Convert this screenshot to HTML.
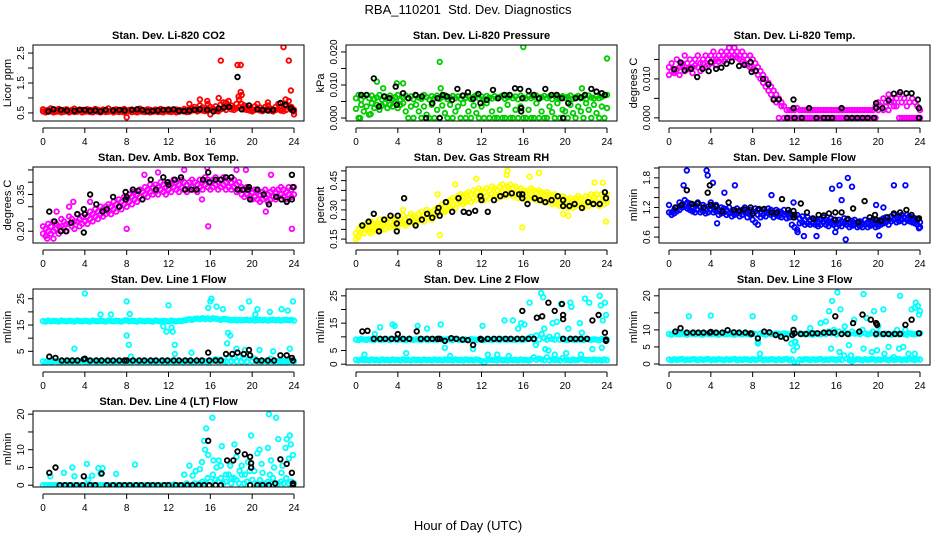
<!DOCTYPE html>
<html><head><meta charset="utf-8"><style>
html,body{margin:0;padding:0;background:#fff;}
svg{display:block;font-family:"Liberation Sans",sans-serif;}
</style></head><body>
<svg id="chart" width="936" height="540" viewBox="0 0 936 540" xmlns="http://www.w3.org/2000/svg">
<rect width="936" height="540" fill="#fff"/>
<text x="468" y="14" text-anchor="middle" font-size="13">RBA_110201&#160; Std. Dev. Diagnostics</text>
<text x="468" y="530" text-anchor="middle" font-size="13">Hour of Day (UTC)</text>
</svg>
<script>
// ---- data (hours, values) ----
const xTicks = [0,4,8,12,16,20,24];
const qStep = 0.25;
// Panel 1: Li-820 CO2
const co2Red = [0.62,0.58,0.6,0.65,0.55,0.6,0.63,0.57,0.6,0.62,0.55,0.6,0.64,0.58,0.61,0.6,0.56,0.62,0.6,0.58,0.63,0.6,0.57,0.61,0.6,0.65,0.58,0.6,0.62,0.56,0.6,0.63,0.58,0.6,0.61,0.57,0.6,0.64,0.6,0.58,0.62,0.6,0.56,0.61,0.6,0.63,0.58,0.6,0.62,0.57,0.6,0.61,0.6,0.58,0.63,0.6,0.62,0.65,0.7,0.6,0.75,0.68,0.62,0.8,0.7,0.65,0.72,0.6,0.78,0.85,0.7,0.9,0.75,0.68,0.8,0.95,1.1,0.75,0.7,0.65,0.6,0.72,0.8,0.68,0.62,0.7,0.75,0.65,0.6,0.7,0.8,0.68,0.65,0.72,0.9,0.7,0.6];
const co2Red2 = [0.55,0.52,0.54,0.56,0.52,0.54,0.55,0.52,0.54,0.56,0.52,0.55,0.53,0.54,0.56,0.52,0.54,0.55,0.53,0.52,0.56,0.54,0.52,0.55,0.53,0.54,0.56,0.52,0.55,0.53,0.54,0.52,0.56,0.55,0.53,0.54,0.52,0.55,0.54,0.53,0.56,0.52,0.54,0.55,0.53,0.54,0.52,0.56,0.54,0.53,0.55,0.52,0.54,0.56,0.55,0.53,0.54,0.58,0.62,0.55,0.6,0.58,0.56,0.62,0.6,0.57,0.6,0.55,0.62,0.65,0.6,0.72,0.62,0.6,0.65,0.7,0.8,0.62,0.6,0.58,0.55,0.6,0.65,0.58,0.56,0.6,0.62,0.58,0.55,0.6,0.62,0.58,0.56,0.6,0.7,0.6,0.55];
const co2RedOut = [[8,0.35],[17,2.25],[18.6,2.1],[18.9,2.1],[18.9,1.2],[16.8,1.0],[15,0.95],[15.7,0.9],[14,0.8],[23,2.7],[23.5,2.25],[23.7,1.25],[23.2,0.95],[16,0.45],[24,0.45],[17.5,0.85],[21.5,0.85],[18.7,1.05]];
const co2Black = [[0.5,0.55],[1,0.62],[1.7,0.6],[2.3,0.58],[3,0.57],[3.5,0.6],[4,0.6],[4.5,0.57],[5,0.58],[5.5,0.55],[6,0.6],[6.7,0.58],[7.3,0.6],[7.8,0.58],[8.5,0.6],[9,0.62],[9.5,0.6],[10,0.55],[10.5,0.57],[11,0.58],[11.5,0.6],[12,0.6],[12.5,0.62],[13,0.57],[13.5,0.56],[14,0.58],[14.5,0.6],[15,0.62],[15.7,0.6],[16.3,0.55],[16.8,0.65],[17.3,0.68],[17.8,0.7],[18.6,1.7],[19,0.62],[19.7,0.75],[20.5,0.62],[21,0.6],[21.5,0.58],[22,0.6],[22.7,0.83],[23.2,0.77],[23.7,0.65],[23.9,0.58]];
// Panel 2: Pressure
const presGreen = [0.006,0.007,0.0055,0.0065,0.007,0.006,0.0068,0.0058,0.0062,0.007,0.0055,0.0065,0.006,0.0068,0.0058,0.0063,0.007,0.0055,0.0062,0.0068,0.006,0.0065,0.0057,0.0068,0.0062,0.0058,0.007,0.0063,0.0056,0.0066,0.006,0.0068,0.0058,0.0064,0.0069,0.0057,0.0062,0.0067,0.006,0.0065,0.0058,0.0068,0.0061,0.0066,0.0057,0.0064,0.0069,0.006,0.0065,0.0058,0.0067,0.0062,0.0059,0.0066,0.006,0.0064,0.0068,0.0058,0.0063,0.0067,0.006,0.0065,0.0057,0.0068,0.0062,0.0059,0.0066,0.006,0.0064,0.0068,0.0058,0.0063,0.0067,0.006,0.0065,0.0057,0.0068,0.0062,0.0059,0.0066,0.006,0.0064,0.0068,0.0058,0.0063,0.0067,0.006,0.0065,0.0057,0.0068,0.0062,0.0059,0.0066,0.006,0.0064,0.0068,0.007];
const presGreen2 = [0.0028,0,0.004,0.002,0.0035,0.001,0.0045,0.003,0.004,0.0025,0.0038,0.0045,0.003,0.004,0.0035,0.0045,0.003,0.004,0.0045,0.002,0,0.0035,0,0.004,0.002,0,0.0035,0.001,0,0.004,0,0.0025,0,0.0038,0.0015,0,0.004,0,0.002,0.0035,0,0.0045,0,0.002,0,0.0038,0.0015,0,0.0035,0,0.0045,0,0.002,0,0,0.0025,0,0,0.004,0,0,0.0025,0,0.0035,0,0,0.0025,0,0,0.0045,0,0.002,0,0,0.0035,0.0018,0,0.0045,0,0.0025,0.002,0,0.004,0.0015,0,0.0035,0.002,0,0.0045,0.0025,0,0.004,0.0015,0,0.0035,0,0.003];
const presGreenOut = [[8,0.017],[16,0.0215],[24,0.018],[2,0.011],[4.5,0.0105],[3.9,0.0105],[2.6,0.009],[8.1,0.009],[21.6,0.009],[1.4,0.0012],[0.4,0]];
const presBlack = [[0.5,0.007],[1,0.007],[1.7,0.012],[2.2,0.0035],[2.7,0.0065],[3.2,0.006],[3.8,0.0095],[3.9,0.004],[4.5,0.0075],[5,0.006],[5.7,0.007],[6.3,0.0065],[6.7,0],[7.3,0.0045],[7.8,0.006],[8,0],[8.3,0.007],[8.7,0.0065],[9.2,0.0055],[9.7,0.0088],[10.2,0.0068],[10.7,0.0078],[11.2,0.0058],[11.7,0.0073],[11.9,0.0045],[12.5,0.0055],[13.1,0.0085],[13.6,0.006],[14.2,0.007],[14.7,0.007],[15.2,0.009],[15.7,0.0088],[15.8,0.003],[15.8,0.002],[15.9,0.006],[16.5,0.0082],[17,0.007],[17.5,0.006],[18.1,0.0088],[18.7,0.007],[19.2,0.007],[19.7,0.006],[19.8,0],[20.3,0.0045],[21,0.006],[21.5,0.0062],[21.9,0.007],[22.5,0.0088],[23,0.008],[23.5,0.0075],[23.8,0.007]];
// Panel 3: Li-820 temp
const tempMag = [0.013,0.014,0.012,0.015,0.013,0.014,0.016,0.014,0.015,0.013,0.015,0.016,0.014,0.015,0.016,0.015,0.016,0.017,0.015,0.016,0.017,0.016,0.017,0.018,0.017,0.018,0.017,0.016,0.017,0.016,0.015,0.016,0.015,0.014,0.013,0.012,0.011,0.010,0.009,0.008,0.007,0.006,0.005,0.004,0.003,0.002,0.002,0.002,0.002,0.0025,0.002,0.002,0.002,0.002,0.002,0.002,0.002,0.002,0.002,0.002,0.002,0.002,0.002,0.002,0.002,0.002,0.002,0.002,0.002,0.002,0.002,0.002,0.002,0.002,0.002,0.002,0.002,0.002,0.002,0.003,0.004,0.003,0.005,0.004,0.006,0.005,0.004,0.005,0.006,0.004,0.005,0.003,0.004,0.005,0.004,0.003,0.002];
const tempMag2 = [0.011,0.012,0.0115,0.0125,0.011,0.0135,0.012,0.0125,0.013,0.0115,0.0135,0.013,0.012,0.014,0.013,0.0135,0.014,0.015,0.0135,0.0145,0.015,0.0145,0.0155,0.016,0.0155,0.016,0.0155,0.015,0.0145,0.014,0.0135,0.013,0.0125,0.012,0.011,0.01,0.009,0.008,0.007,0.006,0.005,0.004,0,0.003,0,0,0,0,0,0,0,0,0,0,0,0,0,0,0,0,0,0,0,0,0,0,0,0,0,0,0,0,0,0,0,0,0,0,0,0,0.002,0.003,0.002,0.003,0.002,0.004,0.003,0.003,0,0,0,0,0,0,0,0,0];
const tempBlack = [[0.5,0.0125],[1.1,0.0142],[1.5,0.0122],[2.1,0.0126],[2.7,0.0105],[3.2,0.0126],[3.8,0.012],[4,0.0143],[4.5,0.0126],[5,0.0129],[5.5,0.0139],[6,0.0145],[6.7,0.0133],[7.2,0.0136],[7.8,0.0143],[7.9,0.0118],[8.3,0.0121],[9,0.01],[9.5,0.0086],[10,0.0047],[10.5,0.0047],[11.3,0],[11.9,0.0047],[11.9,0.0025],[12,0],[12.7,0],[13.4,0.0025],[14.1,0],[14.8,0],[15.2,0],[15.6,0],[16.5,0.0025],[17,0],[17.5,0],[18,0],[18.5,0],[19,0],[19.6,0],[19.8,0.0038],[19.8,0.0025],[20.4,0.0025],[21,0.0045],[21.5,0.0062],[22.1,0.0066],[22.7,0.0063],[23.2,0.0063],[23.8,0.0047],[23.9,0.0025],[23.9,0]];
// Panel 4: amb box temp
const boxMag = [0.22,0.21,0.23,0.22,0.24,0.23,0.22,0.25,0.24,0.23,0.26,0.25,0.24,0.27,0.25,0.26,0.27,0.26,0.28,0.27,0.29,0.28,0.3,0.29,0.3,0.31,0.3,0.32,0.31,0.33,0.32,0.34,0.33,0.35,0.34,0.36,0.35,0.37,0.36,0.38,0.37,0.39,0.38,0.39,0.38,0.4,0.39,0.38,0.4,0.39,0.41,0.4,0.39,0.41,0.4,0.39,0.4,0.41,0.4,0.39,0.41,0.4,0.42,0.41,0.4,0.41,0.42,0.4,0.41,0.42,0.4,0.41,0.4,0.41,0.39,0.4,0.38,0.37,0.38,0.37,0.36,0.37,0.36,0.35,0.36,0.37,0.35,0.36,0.37,0.36,0.37,0.38,0.37,0.36,0.38,0.37,0.38];
const boxMag2 = [0.19,0.18,0.2,0.19,0.2,0.21,0.19,0.22,0.21,0.2,0.23,0.22,0.21,0.24,0.22,0.23,0.24,0.23,0.25,0.24,0.26,0.25,0.27,0.26,0.27,0.28,0.27,0.29,0.28,0.3,0.29,0.31,0.3,0.32,0.31,0.33,0.32,0.34,0.33,0.35,0.34,0.36,0.35,0.36,0.35,0.37,0.36,0.35,0.37,0.36,0.38,0.37,0.36,0.38,0.37,0.36,0.37,0.38,0.37,0.36,0.38,0.37,0.39,0.38,0.37,0.38,0.39,0.37,0.38,0.39,0.37,0.38,0.37,0.38,0.36,0.37,0.35,0.34,0.35,0.34,0.33,0.34,0.33,0.32,0.33,0.34,0.32,0.33,0.34,0.33,0.34,0.35,0.34,0.33,0.35,0.34,0.35];
const boxMagOut = [[0.4,0.17],[1,0.17],[1.3,0.28],[2.5,0.3],[2.9,0.32],[4.5,0.32],[6.5,0.27],[8,0.21],[8.6,0.36],[9.7,0.43],[11,0.44],[13.5,0.45],[15.8,0.22],[15.7,0.46],[18.5,0.45],[19.4,0.45],[21.3,0.28],[21.8,0.43],[23.8,0.21],[15.2,0.33]];
const boxBlack = [[0.6,0.28],[1.1,0.24],[1.7,0.2],[2.2,0.2],[2.7,0.235],[3.3,0.27],[3.9,0.195],[3.9,0.29],[4,0.27],[4.5,0.35],[5.1,0.31],[5.7,0.28],[6.1,0.29],[6.7,0.34],[7.3,0.3],[7.9,0.36],[7.9,0.33],[8,0.34],[8.6,0.37],[9.1,0.365],[9.5,0.33],[10.3,0.41],[10.8,0.37],[11.5,0.42],[11.9,0.4],[12,0.39],[12.6,0.41],[13.2,0.42],[13.6,0.37],[14.2,0.37],[14.7,0.37],[15.3,0.41],[15.8,0.44],[15.9,0.4],[16.5,0.41],[17,0.41],[17.5,0.42],[18,0.42],[18.6,0.37],[19.1,0.37],[19.6,0.37],[19.7,0.38],[19.8,0.33],[20.5,0.37],[21.1,0.35],[21.6,0.31],[22.3,0.34],[22.8,0.33],[23.3,0.32],[23.8,0.33],[23.8,0.43],[23.9,0.38]];
// Panel 5: gas stream RH
const rhYel = [0.18,0.2,0.22,0.21,0.23,0.22,0.24,0.23,0.22,0.25,0.24,0.23,0.25,0.24,0.26,0.25,0.24,0.26,0.27,0.25,0.26,0.28,0.27,0.26,0.28,0.29,0.27,0.3,0.29,0.28,0.3,0.31,0.3,0.33,0.32,0.34,0.35,0.36,0.35,0.37,0.38,0.37,0.38,0.39,0.38,0.4,0.39,0.41,0.4,0.39,0.41,0.4,0.42,0.41,0.4,0.42,0.43,0.41,0.42,0.43,0.41,0.42,0.4,0.41,0.4,0.39,0.4,0.41,0.4,0.39,0.4,0.39,0.38,0.39,0.38,0.37,0.38,0.37,0.36,0.37,0.36,0.35,0.36,0.35,0.36,0.37,0.36,0.35,0.37,0.36,0.38,0.37,0.38,0.36,0.38,0.37,0.38];
const rhYel2 = [0.15,0.17,0.19,0.18,0.2,0.19,0.21,0.2,0.19,0.21,0.2,0.2,0.22,0.21,0.22,0.21,0.21,0.23,0.23,0.22,0.23,0.24,0.24,0.23,0.25,0.25,0.24,0.26,0.26,0.25,0.27,0.28,0.27,0.29,0.29,0.3,0.31,0.32,0.31,0.33,0.34,0.33,0.34,0.35,0.34,0.36,0.35,0.37,0.36,0.35,0.37,0.36,0.38,0.37,0.36,0.38,0.39,0.37,0.38,0.39,0.37,0.38,0.36,0.37,0.36,0.35,0.36,0.37,0.36,0.35,0.36,0.35,0.34,0.35,0.34,0.33,0.34,0.33,0.32,0.33,0.32,0.31,0.32,0.31,0.32,0.33,0.32,0.31,0.33,0.32,0.34,0.33,0.34,0.32,0.34,0.33,0.34];
const rhYelOut = [[0.2,0.16],[1.4,0.18],[4.5,0.3],[8,0.17],[7.8,0.38],[9.5,0.43],[11.5,0.46],[14.5,0.5],[14.4,0.48],[15.9,0.21],[16.6,0.47],[17.5,0.49],[19.8,0.28],[20.3,0.27],[23.9,0.24],[23.6,0.44],[22.8,0.44]];
const rhBlack = [[0.6,0.22],[1.2,0.24],[1.7,0.28],[2.2,0.19],[2.7,0.25],[3.3,0.27],[3.9,0.23],[3.9,0.19],[4,0.27],[4.6,0.36],[5.1,0.24],[5.7,0.22],[6.3,0.25],[6.8,0.28],[7.3,0.26],[7.8,0.29],[7.9,0.31],[8,0.27],[8.6,0.34],[9.2,0.29],[9.8,0.36],[10.3,0.29],[10.8,0.285],[11.4,0.295],[11.9,0.37],[12,0.35],[12.6,0.29],[13.2,0.35],[13.8,0.37],[14.3,0.38],[14.9,0.385],[15.6,0.38],[15.9,0.38],[15.9,0.36],[16.4,0.33],[17.1,0.36],[17.6,0.35],[18.1,0.34],[18.7,0.35],[19.3,0.37],[19.8,0.35],[19.8,0.32],[20.4,0.32],[20.9,0.33],[21.6,0.31],[22.2,0.34],[22.7,0.33],[23.3,0.33],[23.8,0.39],[23.9,0.36]];
// Panel 6: sample flow
const sfBlue = [1.25,1.1,1.15,1.2,1.3,1.25,1.35,1.3,1.28,1.22,1.25,1.3,1.2,1.25,1.18,1.22,1.3,1.2,1.25,1.15,1.2,1.18,1.15,1.2,1.12,1.15,1.18,1.12,1.15,1.2,1.1,1.15,1.12,1.18,1.15,1.1,1.15,1.12,1.18,1.15,1.1,1.15,1.12,1.1,1.15,1.08,1.1,1.05,1.0,1.05,0.98,1.02,0.95,1.0,0.95,0.98,0.95,0.92,0.95,1.0,0.95,0.92,0.98,0.95,0.9,0.95,0.92,0.98,0.95,0.9,0.93,0.95,0.9,0.92,0.88,0.95,0.9,0.93,0.95,0.9,0.92,0.95,0.98,1.0,0.95,1.02,1.05,1.0,1.02,1.05,1.0,1.05,1.02,1.0,0.98,0.95,0.9];
const sfBlue2 = [1.1,1.05,1.08,1.12,1.15,1.2,1.22,1.18,1.15,1.12,1.1,1.15,1.1,1.12,1.08,1.1,1.15,1.1,1.12,1.05,1.08,1.1,1.05,1.08,1.02,1.05,1.08,1.02,1.05,1.1,1.0,1.05,0.95,0.9,1.05,1.0,1.05,1.02,1.08,1.05,1.0,1.05,1.02,1.0,1.05,0.98,1.0,0.85,0.8,0.75,0.88,0.9,0.85,0.88,0.85,0.88,0.85,0.82,0.85,0.9,0.85,0.82,0.88,0.85,0.8,0.85,0.82,0.88,0.85,0.8,0.83,0.85,0.8,0.82,0.8,0.85,0.8,0.83,0.85,0.8,0.82,0.85,0.88,0.9,0.85,0.92,0.95,0.9,0.92,0.95,0.9,0.95,0.92,0.9,0.88,0.85,0.8];
const sfBlueOut = [[1.7,1.95],[3.6,1.95],[3.7,1.85],[4.2,1.7],[1.4,1.65],[5.3,1.5],[6.3,1.65],[4.6,0.88],[9.8,1.45],[8.5,0.85],[12.3,0.7],[12.9,0.62],[14.1,0.62],[15.6,1.58],[16.3,1.65],[17.1,1.8],[17.5,1.62],[15.9,0.7],[16.9,0.55],[16.5,1.35],[19.8,1.25],[20.1,0.63],[21.5,1.65],[22.6,1.65],[23.9,0.78],[11.9,1.3],[20.5,1.2]];
const sfBlack = [[0.6,1.2],[1.2,1.25],[1.7,1.55],[2.2,1.27],[2.7,1.28],[3.3,1.2],[3.7,1.5],[3.9,1.65],[4,1.25],[4.5,1.22],[5.1,1.12],[5.7,1.3],[6.2,1.15],[6.7,1.13],[7.2,1.16],[7.8,1.2],[8,1.07],[8.6,1.17],[9.1,1.17],[9.8,1.1],[10.3,1.1],[10.8,1.37],[11.4,1.15],[11.9,1.13],[11.9,1.0],[12,1.05],[12.6,1.28],[13.2,1.1],[13.8,0.97],[14.3,1.05],[14.8,1.04],[15.3,1.08],[15.9,1.1],[15.9,0.95],[16.5,1.1],[17.1,0.97],[17.6,1.18],[18.1,0.9],[18.7,1.33],[19.2,1.0],[19.7,1.05],[19.8,0.95],[20.3,0.93],[20.9,1.0],[21.5,1.08],[22.1,1.1],[22.7,1.15],[23.2,1.05],[23.8,0.97],[23.9,0.98]];
// Panel 7: line 1 flow
const l1Upper = [16.5,16.3,16.7,16.4,16.6,16.5,16.3,16.7,16.5,16.4,16.6,16.5,16.3,16.7,16.5,16.4,16.6,16.5,16.3,16.7,16.5,16.4,16.6,16.5,16.3,16.7,16.5,16.4,16.6,16.5,16.3,16.7,16.8,16.4,16.6,16.5,16.3,16.7,16.5,16.4,16.6,16.5,16.3,16.7,16.5,16.4,16.6,16.5,16.3,16.7,16.5,16.4,16.6,16.5,16.8,17,17.2,17,17.3,17.5,17.2,17.6,17.3,17.5,17.2,17.6,17.4,17.2,17,17.3,17.2,17,16.8,17,16.8,17,16.8,16.9,17,16.8,17,16.7,16.9,17,16.8,17,16.7,16.9,17,16.8,17,16.7,16.9,17,16.8,17,16.7];
const l1Lower = [1.2,1.0,1.3,1.1,1.2,1.4,1.0,1.2,1.1,1.3,1.2,1.0,1.3,1.1,1.2,1.4,1.0,1.2,1.1,1.3,1.2,1.0,1.3,1.1,1.2,1.4,1.0,1.2,1.1,1.3,1.2,1.0,1.3,1.1,1.2,1.4,1.0,1.2,1.1,1.3,1.2,1.0,1.3,1.1,1.2,1.4,1.0,1.2,1.1,1.3,1.2,1.0,1.3,1.1,1.2,1.4,1.0,1.2,1.1,1.3,1.2,1.0,1.3,1.1,1.2,1.4,2.0,1.2,1.8,1.3,1.2,2.5,1.3,2.2,1.2,3.0,1.0,2.0,1.1,3.5,1.2,2.2,1.3,1.1,1.2,1.4,1.0,2.2,1.1,1.3,1.2,1.0,1.3,1.1,1.2,1.4,1.2];
const l1Out = [[4,27],[8,24],[8,11],[8.2,7.5],[8.3,19.2],[8.4,3],[11.5,14.5],[11.8,12.5],[12,22.5],[12.3,14],[12.4,12.5],[12.6,7.5],[12.6,4],[14.2,4.5],[15.8,21.5],[16,24],[16.1,25],[16.6,22],[17.2,21],[17.7,12],[17.6,8],[17.9,11],[19,21.5],[19.7,24],[20.3,19],[20.5,21],[20.7,5.5],[21.7,20],[22,5],[22.8,21],[23.4,20.5],[23.6,6],[23.9,24],[18.5,6],[19.3,5.5],[6.5,19],[5.5,19],[3,6]];
const l1Black = [[0.6,3],[1.2,2.5],[1.8,1.5],[2.3,1.5],[2.8,1.5],[3.3,1.5],[3.9,2],[4,2.2],[4.5,1.5],[5.1,1.5],[5.6,1.5],[6.2,1.5],[6.7,1.5],[7.3,1.5],[7.8,1.5],[8,1.5],[8.6,1.5],[9.2,1.5],[9.7,1.5],[10.3,1.5],[10.8,1.5],[11.4,1.5],[11.9,1.5],[12.5,1.5],[13,1.5],[13.6,1.5],[14.1,1.5],[14.7,1.5],[15.2,1.5],[15.8,4.5],[15.9,1.5],[16.5,1.5],[17,1.5],[17.5,4],[18.1,4],[18.6,4.5],[19.2,4],[19.7,5.5],[19.8,3.5],[20.4,1.5],[20.9,1.5],[21.5,1.5],[22.1,1.5],[22.7,3.5],[23.3,3.5],[23.8,2.5],[23.9,1.5]];
// Panel 8: line 2 flow
const l2Upper = [9,8.8,9.2,9,8.9,9.1,9,8.8,9.2,9,8.9,9.1,9,8.8,9.2,9,8.9,9.1,9,8.8,9.2,9,8.9,9.1,9,8.8,9.2,9,8.9,9.1,9,8.8,9.2,9,8.9,9.1,9,8.8,9.2,9,8.9,9.1,9,8.8,9.2,9,8.9,9.1,9,8.8,9.2,9,8.9,9.1,9,8.8,9.2,9,8.9,9.1,9,8.8,9.2,9,8.9,9.1,9.5,10,9,10.5,9,11,9.5,9,10,9.2,9,10.5,9,9.2,9,8.8,9.2,9,8.9,9.1,9,8.8,9.2,9,8.9,9.1,9,8.8,9.2,9,9];
const l2Lower = [1.6,1.4,1.7,1.5,1.6,1.4,1.7,1.5,1.6,1.4,1.7,1.5,1.6,1.4,1.7,1.5,1.6,1.4,1.7,1.5,1.6,1.4,1.7,1.5,1.6,1.4,1.7,1.5,1.6,1.4,1.7,1.5,1.6,1.4,1.7,1.5,1.6,1.4,1.7,1.5,1.6,1.4,1.7,1.5,1.6,1.4,1.7,1.5,1.2,0.6,1.4,1.7,1.5,1.6,1.4,1.7,1.5,1.6,1.4,1.7,1.5,1.6,1.4,1.7,1.5,1.6,1.4,1.7,2.5,1.6,2,1.7,1.5,2.5,1.4,1.7,1.5,1.6,1.4,2.2,1.5,1.6,1.4,1.7,1.5,1.6,2,1.7,1.5,1.6,1.4,1.7,1.5,1.6,1.4,1.7,1.5];
const l2Out = [[1.8,11],[2.3,13.5],[3.5,14.5],[3.7,14],[4.8,4],[5.9,14],[6.8,13],[8.1,14.5],[8.5,6],[9,3],[11.2,5.5],[12.1,14],[12.4,9],[12.6,3.5],[14.2,16],[15,16],[15.5,13],[15.8,15],[16.1,14.5],[16.6,22.5],[17.7,26],[17.9,24.5],[18,13],[18.4,5],[18.8,15],[19.2,15.5],[19.6,22],[20.3,13],[20.5,22.5],[20.6,21],[21.4,15],[21.6,11.5],[21.9,24],[22.3,22.5],[22.6,5.5],[23.3,25],[23.4,21.5],[23.6,16],[23.9,18],[23.8,22.5],[23.5,6],[17.2,7],[18.1,5.5],[19,3.5],[20.1,4],[21.5,3.5],[0.8,3.5],[13.5,3.5],[14.6,3]];
const l2Black = [[0.6,12],[1.1,12.2],[1.7,9.3],[2.3,9.3],[2.8,9.3],[3.4,9.3],[3.9,9.3],[4,11],[4.5,9.3],[5.1,9.3],[5.8,12],[6.2,9.3],[6.8,9.3],[7.3,9.3],[7.8,9.3],[8,9.3],[8.5,8.5],[9.1,9.5],[9.6,9.3],[10.2,9],[10.7,8.8],[11.2,7],[11.9,9.3],[12,9],[12.6,9.3],[13.2,9.3],[13.7,9.3],[14.3,9.3],[14.8,9.3],[15.4,9.3],[15.9,19.5],[15.9,9.3],[16.5,9.3],[17,9.3],[17.3,17],[17.8,17.5],[18.4,22.5],[19,19.5],[19.7,22],[19.8,18],[19.8,16.5],[19.8,9.3],[20.5,9.3],[21,9.3],[21.5,9.3],[22.1,9.3],[22.6,16],[23.2,18],[23.8,11.5],[23.9,9],[23.9,8.5]];
// Panel 9: line 3 flow
const l3Upper = [8.8,8.6,9,8.8,8.7,8.9,8.8,8.6,9,8.8,8.7,8.9,8.8,8.6,9,8.8,8.7,8.9,8.8,8.6,9,8.8,8.7,8.9,8.8,8.6,9,8.8,8.7,8.9,8.8,8.6,9,8.8,6.5,8.9,8.8,8.6,9,8.8,8.7,8.9,8.8,8.6,9,8.8,8.7,8.9,6.5,5,9,8.8,8.7,8.9,8.8,8.6,9,8.8,8.7,8.9,8.8,9.5,9,10,8.7,9.5,8.8,9.2,9,8.8,9.5,8.9,9,8.8,10,9,8.7,8.9,9.5,8.6,9,8.8,8.7,8.9,8.8,8.6,9,8.8,8.7,8.9,8.8,8.6,9,8.8,8.7,8.9,9];
const l3Lower = [1.3,1.1,1.4,1.2,1.3,1.5,1.1,1.3,1.2,1.4,1.3,1.1,1.4,1.2,1.3,1.5,1.1,1.3,1.2,1.4,1.3,1.1,1.4,1.2,1.3,1.5,1.1,1.3,1.2,1.4,1.3,1.1,1.4,1.2,1.3,1.5,1.1,1.3,1.2,1.4,1.3,1.1,1.4,1.2,1.3,1.5,1.1,1.3,0.5,0.3,1.3,1.2,1.4,1.3,1.1,1.4,1.2,1.3,1.5,1.1,1.3,1.2,1.4,1.3,1.1,1.4,1.2,2.5,1.5,1.1,0.8,1.2,1.4,1.3,1.1,1.4,1.2,1.3,1.5,1.1,1.3,1.2,1.4,1.3,1.1,1.4,1.2,1.3,1.5,1.1,1.3,1.2,1.4,1.3,1.1,1.4,1.3];
const l3Out = [[1.9,14],[4,14.2],[8,14],[8.5,6],[8.7,3],[11.7,6],[11.9,4],[12,13.5],[12.1,6.5],[13.5,10.5],[14.5,12],[15,12.5],[15.3,15.5],[15.6,18.5],[16.1,21],[16.4,16],[16.8,11],[17.2,5.5],[17.7,13],[18.6,20.5],[18.9,13.5],[19.6,15.5],[20,11],[20.5,16],[21,5],[21.8,10],[22.1,20],[22.4,5],[22.6,10],[22.9,3],[23.2,16],[23.5,16.5],[23.6,18],[23.8,17],[23.9,14.5],[24,15.5],[16.3,3.5],[17.4,2.5],[18.6,4.5],[19.4,3.5],[19.9,4],[20.6,3],[22,4.5],[23.5,3],[15.5,4.5],[21.5,2]];
const l3Black = [[0.6,9.5],[1.1,10.5],[1.7,9.2],[2.3,9.2],[2.8,9.2],[3.3,9.2],[3.9,9.2],[4,9.4],[4.5,9.2],[5.1,9.2],[5.6,9.9],[6.2,9.3],[6.7,9.2],[7.3,9.2],[7.8,9],[7.9,8.8],[8.5,7.5],[9.1,9.5],[9.6,9.3],[10.2,8.5],[10.7,8],[11.2,7.5],[11.8,8.5],[11.9,10],[12,9],[12.6,8.8],[13.1,8.8],[13.7,9],[14.2,9],[14.8,9.2],[15.3,9.2],[15.8,9.2],[15.9,14],[16.5,8.8],[17.1,8.8],[17.6,12],[18.2,9.5],[18.5,14.5],[19.3,13],[19.8,12],[19.9,11.5],[19.8,8.8],[20.5,8.8],[21,8.8],[21.6,8.8],[22.1,8.8],[22.6,11.5],[23.2,13],[23.9,9]];
// Panel 10: line 4 (LT) flow
const l4Cyan = [0,0,0,0,0,0,0,0,0,0,0,0,0,0,0,0,0,0,0,0,0,0,0,0,0,0,0,0,0,0,0,0,0,0,0,0,0,0,0,0,0,0,0,0,0,0,0,0,0,0,0.2,0,0,0,0,0.5,0,0,0.5,0,0.5,1,0.5,2,1,3,1.5,1,2,0.5,1,3,0.5,2,1.5,0.5,3,0.5,1,4,1.5,0.5,0.5,1.5,0.5,0.5,1,0.5,2,0.3,0.5,1,0.5,2,0.5,1,0.5];
const l4Out = [[0.7,2.5],[2,3.5],[2.8,5],[3,2.5],[4.2,6],[4.3,1.5],[4.7,2.7],[5.3,4.8],[5.5,3.2],[5.7,4.8],[7,3.2],[8.8,5.8],[13.5,3],[14,5.5],[14.3,2.7],[14.6,4],[15,4.5],[15.2,6.5],[15.4,12.5],[15.5,10],[15.6,16],[15.8,8.5],[16.2,19],[16.3,7],[16.6,5],[16.8,7],[17.1,11],[17,5.5],[17.5,3],[17.9,5.5],[18.3,11.5],[18.5,8],[18.8,4],[19,5.5],[19.3,3],[19.6,6.5],[19.9,14],[20.2,4],[20.5,9],[20.7,10],[20.9,6],[21,3.5],[21.5,10.5],[21.6,20],[21.8,7],[22.1,5],[22.3,19],[22.5,13],[22.8,3.5],[22.9,5.5],[23.2,10.5],[23.3,13],[23.5,7.5],[23.6,14],[23.7,11.5],[23.9,8.5],[21.7,3],[18,2]];
const l4Black = [[0.6,3.5],[1.2,5],[1.6,0],[2.1,0],[2.6,0],[3.2,0],[3.8,0],[3.9,2.5],[4.5,0],[5,0],[5.6,3.3],[6.1,0],[6.7,0],[7.3,0],[7.8,0],[8.3,0],[8.9,0],[9.4,0],[10,0],[10.5,0],[11,0],[11.6,0],[12,0],[12.7,0],[13.2,0],[13.8,0],[14.3,0],[14.9,0],[15.4,0],[15.8,12.5],[15.9,0],[16.5,0],[17,0],[17.6,7],[18.2,7],[18.6,9.5],[19.3,8.7],[19.8,8],[19.9,6.2],[19.9,5],[19.8,0],[20.5,0],[21,0],[21.6,0],[22.2,0.5],[22.7,7.3],[23.3,6],[23.8,3.5],[23.9,0.5],[23.9,0]];

// ---- drawing ----
const NS = 'http://www.w3.org/2000/svg';
const svg = document.getElementById('chart');
const colX0 = [43, 356, 669];
const rowTop = [45, 167, 289, 411];
const plotH = 76;
const spanW = 251;

function mk(tag, attrs, parent) {
  const e = document.createElementNS(NS, tag);
  for (const k in attrs) e.setAttribute(k, attrs[k]);
  (parent || svg).appendChild(e);
  return e;
}
function fmt(v, d) { return v.toFixed(d); }

function panel(cfg) {
  const g = mk('g', {});
  
  
  const x0 = colX0[cfg.col], top = rowTop[cfg.row], bot = top + plotH;
  const xs = h => x0 + h / 24 * spanW;
  const ys = v => bot - (v - cfg.ymin) / (cfg.ymax - cfg.ymin) * plotH;
  const cid = 'clip-' + cfg.name;
  const cp = mk('clipPath', {id: cid}, g);
  mk('rect', {x: x0 - 10, y: top, width: spanW + 20, height: plotH}, cp);
  const pts = mk('g', {'clip-path': 'url(#' + cid + ')'}, g);
  function dot(h, v, color) {
    const c = mk('circle', {cx: xs(h).toFixed(1), cy: ys(v).toFixed(1), r: 2.3, fill: 'none', stroke: color, 'stroke-width': 1.8}, pts);
    
    
  }
  (cfg.qSeries || []).forEach(arr => arr.forEach((v, i) => dot(i * qStep, v, cfg.color)));
  (cfg.pairSeries || []).forEach(arr => arr.forEach(p => dot(p[0], p[1], cfg.color)));
  (cfg.black || []).forEach(p => dot(p[0], p[1], '#000'));
  const fr = mk('rect', {x: x0 - 10, y: top, width: spanW + 20, height: plotH, fill: 'none', stroke: '#000', 'stroke-width': 1}, g);
  
  
  const t = mk('text', {x: x0 + spanW / 2, y: top - 6, 'text-anchor': 'middle', 'font-size': 11, 'font-weight': 'bold'}, g);
  t.textContent = cfg.title;
  
  
  mk('line', {x1: xs(0), x2: xs(24), y1: bot + 7, y2: bot + 7, stroke: '#000'}, g);
  xTicks.forEach(h => {
    mk('line', {x1: xs(h), x2: xs(h), y1: bot + 7, y2: bot + 12, stroke: '#000'}, g);
    const tl = mk('text', {x: xs(h), y: bot + 24, 'text-anchor': 'middle', 'font-size': 10}, g);
    tl.textContent = h;
    
    
  });
  const ax = x0 - 10;
  cfg.ticks.forEach(v => {
    mk('line', {x1: ax - 5, x2: ax, y1: ys(v), y2: ys(v), stroke: '#000'}, g);
  });
  cfg.labels.forEach(v => {
    const yy = ys(v), lx = ax - 9;
    const tl = mk('text', {x: lx, y: yy, 'text-anchor': 'middle', 'font-size': 10, transform: 'rotate(-90 ' + lx + ' ' + yy + ')'}, g);
    tl.textContent = fmt(v, cfg.dec);
    
    
  });
  const yl = x0 - 32, ym = top + plotH / 2;
  const yt = mk('text', {x: yl, y: ym, 'text-anchor': 'middle', 'font-size': 11, transform: 'rotate(-90 ' + yl + ' ' + ym + ')'}, g);
  yt.textContent = cfg.ylab;
  
  
}

panel({name:'panel-co2', col:0, row:0, title:'Stan. Dev. Li-820 CO2', ylab:'Licor ppm', color:'#ff0000', ymin:0.23, ymax:2.77, ticks:[0.5,1,1.5,2,2.5], labels:[0.5,1.5,2.5], dec:1, qSeries:[co2Red, co2Red2], pairSeries:[co2RedOut], black:co2Black});
panel({name:'panel-pressure', col:1, row:0, title:'Stan. Dev. Li-820 Pressure', ylab:'kPa', color:'#00cc00', ymin:-0.0009, ymax:0.0221, ticks:[0,0.005,0.01,0.015,0.02], labels:[0,0.01,0.02], dec:3, qSeries:[presGreen2, presGreen], pairSeries:[presGreenOut], black:presBlack});
panel({name:'panel-li820-temp', col:2, row:0, title:'Stan. Dev. Li-820 Temp.', ylab:'degrees C', color:'#ff00ff', ymin:-0.0008, ymax:0.0187, ticks:[0,0.005,0.01,0.015], labels:[0,0.01], dec:3, qSeries:[tempMag2, tempMag], black:tempBlack});
panel({name:'panel-box-temp', col:0, row:1, title:'Stan. Dev. Amb. Box Temp.', ylab:'degrees C', color:'#ff00ff', ymin:0.152, ymax:0.462, ticks:[0.2,0.25,0.3,0.35,0.4,0.45], labels:[0.2,0.35], dec:2, qSeries:[boxMag2, boxMag], pairSeries:[boxMagOut], black:boxBlack});
panel({name:'panel-rh', col:1, row:1, title:'Stan. Dev. Gas Stream RH', ylab:'percent', color:'#ffff00', ymin:0.13, ymax:0.52, ticks:[0.15,0.2,0.25,0.3,0.35,0.4,0.45,0.5], labels:[0.15,0.3,0.45], dec:2, qSeries:[rhYel2, rhYel], pairSeries:[rhYelOut], black:rhBlack});
panel({name:'panel-sample-flow', col:2, row:1, title:'Stan. Dev. Sample Flow', ylab:'ml/min', color:'#0000ff', ymin:0.48, ymax:2.02, ticks:[0.6,0.8,1,1.2,1.4,1.6,1.8,2], labels:[0.6,1.2,1.8], dec:1, qSeries:[sfBlue2, sfBlue], pairSeries:[sfBlueOut], black:sfBlack});
panel({name:'panel-line1', col:0, row:2, title:'Stan. Dev. Line 1 Flow', ylab:'ml/min', color:'#00ffff', ymin:-0.2, ymax:28.7, ticks:[5,10,15,20,25], labels:[5,15,25], dec:0, qSeries:[l1Upper, l1Lower], pairSeries:[l1Out], black:l1Black});
panel({name:'panel-line2', col:1, row:2, title:'Stan. Dev. Line 2 Flow', ylab:'ml/min', color:'#00ffff', ymin:-0.3, ymax:27.5, ticks:[0,5,10,15,20,25], labels:[0,5,15,25], dec:0, qSeries:[l2Upper, l2Lower], pairSeries:[l2Out], black:l2Black});
panel({name:'panel-line3', col:2, row:2, title:'Stan. Dev. Line 3 Flow', ylab:'ml/min', color:'#00ffff', ymin:-0.3, ymax:22, ticks:[0,5,10,15,20], labels:[0,5,10,20], dec:0, qSeries:[l3Upper, l3Lower], pairSeries:[l3Out], black:l3Black});
panel({name:'panel-line4', col:0, row:3, title:'Stan. Dev. Line 4 (LT) Flow', ylab:'ml/min', color:'#00ffff', ymin:-0.5, ymax:20.9, ticks:[0,5,10,15,20], labels:[0,5,10,20], dec:0, qSeries:[l4Cyan], pairSeries:[l4Out], black:l4Black});
</script>
</body></html>
